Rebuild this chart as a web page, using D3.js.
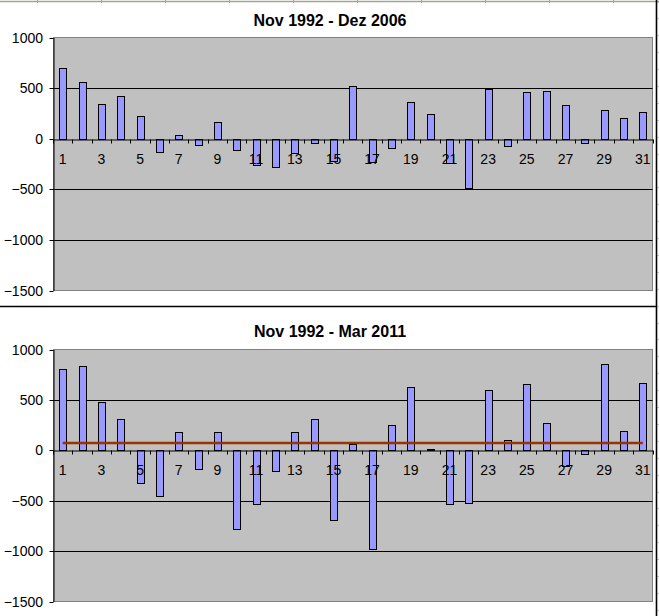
<!DOCTYPE html>
<html><head><meta charset="utf-8">
<script src="https://cdn.jsdelivr.net/npm/d3@7"></script>
<style>
body{margin:0;background:#fff}
svg{display:block}
text{font-family:"Liberation Sans",Arial,sans-serif;fill:#000}
</style>
</head><body>
<svg id="c" width="659" height="616"></svg>
<script>
// ---- data ----
const days = [1,2,3,4,5,6,7,8,9,10,11,12,13,14,15,16,17,18,19,20,21,22,23,24,25,26,27,28,29,30,31];
const valuesDez2006 = [700,565,345,425,226,-130,40,-60,165,-110,-260,-280,-140,-45,-225,525,-235,-90,365,245,-240,-490,490,-75,465,475,330,-40,285,205,265];
const valuesMar2011 = [810,840,475,315,-320,-450,185,-190,185,-780,-530,-210,185,315,-690,65,-975,255,630,10,-530,-520,600,105,660,275,-155,-40,860,195,670];
const meanMar2011 = 72;
const yTicks = [1000,500,0,-500,-1000,-1500];
const gridValues = [500,-500,-1000];
const xLabels = [1,3,5,7,9,11,13,15,17,19,21,23,25,27,29,31];
const titles = ["Nov 1992 - Dez 2006","Nov 1992 - Mar 2011"];

const svg = d3.select("#c");

// spreadsheet background details
svg.append("line").attr("x1",0).attr("x2",659).attr("y1",1.5).attr("y2",1.5)
  .attr("stroke","#a3a294").attr("stroke-width",1.5);
[37.5,101.5,165.5,229.5,293.5,357.5,421.5,485.5,549.5,613.5].forEach(x=>{
  svg.append("line").attr("x1",x).attr("x2",x).attr("y1",0).attr("y2",3).attr("stroke","#a3a294");
});
for(let y=1.5;y<616;y+=16.9){
  svg.append("line").attr("x1",657).attr("x2",659).attr("y1",Math.round(y)+0.5).attr("y2",Math.round(y)+0.5).attr("stroke","#c8c8c8");
}
svg.append("line").attr("x1",0).attr("x2",657).attr("y1",306.5).attr("y2",306.5).attr("stroke","#000").attr("stroke-width",1.6);
svg.append("line").attr("x1",656.5).attr("x2",656.5).attr("y1",0).attr("y2",616).attr("stroke","#000").attr("stroke-width",1.6);

const panels = [
  {values: valuesDez2006, title: titles[0], titleY: 25.7, top: 37.5, bottom: 290.5, mean: null},
  {values: valuesMar2011, title: titles[1], titleY: 336.7, top: 349.5, bottom: 601.5, mean: meanMar2011}
];
const left = 53, right = 652.5;

panels.forEach(p=>{
  const g = svg.append("g");
  const x = d3.scaleBand().domain(days).range([left,right]).padding(0);
  const xb = d3.scaleLinear().domain([0,days.length]).range([left,right]);
  const y = d3.scaleLinear().domain([-1500,1000]).range([p.bottom,p.top]);
  const ry = v => Math.round(y(v)) + 0.5;

  g.append("text").attr("x",330).attr("y",p.titleY).attr("text-anchor","middle")
    .style("font-size","16px").style("font-weight","bold").text(p.title);

  g.append("rect").attr("x",left+0.5).attr("y",p.top).attr("width",right-left-0.5).attr("height",p.bottom-p.top)
    .attr("fill","#c0c0c0").attr("stroke","#808080").attr("stroke-width",1);

  g.selectAll(".grid").data(gridValues).enter().append("line")
    .attr("x1",left).attr("x2",right).attr("y1",d=>ry(d)).attr("y2",d=>ry(d))
    .attr("stroke","#000").attr("stroke-width",1);

  const bw = 7;
  g.selectAll(".bar").data(p.values).enter().append("rect")
    .attr("x",(d,i)=>Math.round(x(days[i]) + x.bandwidth()/2 - bw/2) + 0.5)
    .attr("y",d=>Math.min(ry(d),ry(0)))
    .attr("width",bw)
    .attr("height",d=>Math.abs(ry(d)-ry(0)))
    .attr("fill","#9999ff").attr("stroke","#000").attr("stroke-width",1);

  if(p.mean!==null){
    const line = d3.line().x(d=>x(d)+x.bandwidth()/2).y(()=>y(p.mean));
    g.append("path").datum(days).attr("d",line).attr("fill","none")
      .attr("stroke","#993300").attr("stroke-width",2.5);
  }

  // y axis
  const ya = g.append("g").attr("transform",`translate(${left+0.5},0)`)
    .call(d3.axisLeft(y).tickValues(yTicks).tickSize(4).tickSizeOuter(0).tickPadding(6.5).tickFormat(d3.format("d")));
  ya.selectAll("path,line").attr("stroke","#000");
  ya.selectAll(".tick").attr("transform",d=>`translate(0,${ry(d)})`);
  ya.selectAll("text").style("font-size","14px").attr("fill","#000").style("font-family",'"Liberation Sans",Arial,sans-serif');

  // zero axis with boundary ticks
  const z = ry(0);
  const xa = g.append("g").attr("transform",`translate(0,${z})`)
    .call(d3.axisBottom(xb).tickValues(d3.range(0,days.length+1)).tickSize(4).tickSizeOuter(0).tickFormat(""));
  xa.selectAll("path,line").attr("stroke","#000");
  xa.selectAll(".tick").attr("transform",d=>`translate(${Math.round(xb(d))+0.5},0)`);

  // labels
  const xl = g.append("g").attr("transform",`translate(0,${z})`)
    .call(d3.axisBottom(x).tickValues(xLabels).tickSize(0).tickPadding(15));
  xl.select(".domain").remove();
  xl.selectAll("text").style("font-size","14px").attr("fill","#000").style("font-family",'"Liberation Sans",Arial,sans-serif');
});
</script>
</body></html>
